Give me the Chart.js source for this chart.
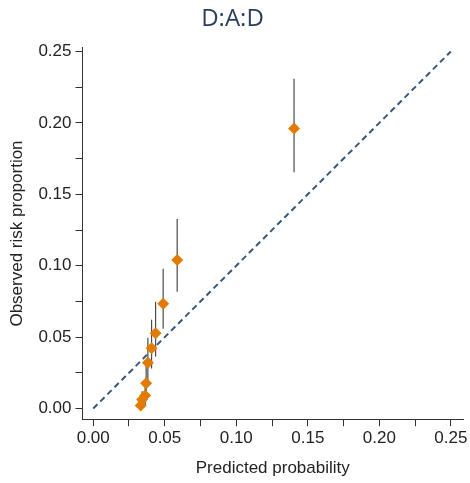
<!DOCTYPE html>
<html>
<head>
<meta charset="utf-8">
<script src="https://cdn.jsdelivr.net/npm/chart.js@4"></script>
<style>
  html, body { margin: 0; padding: 0; background: #fff; }
  #wrap { width: 470px; height: 483px; }
</style>
</head>
<body>
<div id="wrap"><canvas id="calChart" width="470" height="483"></canvas></div>
<script>
// calibration groups
const predicted = [0.1404, 0.0587, 0.0489, 0.0436, 0.0408, 0.0382, 0.0370, 0.0363, 0.0342, 0.0332];
const observed  = [0.1960, 0.1040, 0.0733, 0.0527, 0.0422, 0.0321, 0.0177, 0.0091, 0.0063, 0.0021];
const ciLower   = [0.1655, 0.0817, 0.0559, 0.0363, 0.0280, 0.0168, 0.0063, 0.0020, 0.0005, 0.0000];
const ciUpper   = [0.2310, 0.1327, 0.0978, 0.0747, 0.0622, 0.0496, 0.0307, 0.0154, 0.0120, 0.0070];
const refLine   = [0, 0.25];
const tickVals  = [0, 0.025, 0.05, 0.075, 0.1, 0.125, 0.15, 0.175, 0.2, 0.225, 0.25];

const axisColor = '#333';
const textFont = 'Liberation Sans, Arial, sans-serif';

function tickLabel(v) {
    const k = Math.round(v * 1000);
    return k % 50 === 0 ? v.toFixed(2) : '';
}

// vertical CI lines, drawn under the markers
const errorBars = {
    id: 'errorBars',
    beforeDatasetsDraw(chart) {
        const { ctx, scales: { x, y } } = chart;
        ctx.save();
        ctx.strokeStyle = '#4a4a4a';
        ctx.lineWidth = 1.2;
        predicted.forEach((p, i) => {
            const px = x.getPixelForValue(p);
            ctx.beginPath();
            ctx.moveTo(px, y.getPixelForValue(ciLower[i]));
            ctx.lineTo(px, y.getPixelForValue(ciUpper[i]));
            ctx.stroke();
        });
        ctx.restore();
    }
};

function axisOptions(min, max, titleText, tickPad, titlePad) {
    return {
        type: 'linear',
        min: min,
        max: max,
        afterBuildTicks: scale => { scale.ticks = tickVals.map(v => ({ value: v })); },
        ticks: {
            callback: tickLabel,
            autoSkip: false,
            maxRotation: 0,
            color: '#222',
            font: { family: textFont, size: 17 },
            padding: tickPad
        },
        grid: {
            drawOnChartArea: false,
            drawTicks: true,
            tickLength: 7,
            color: axisColor
        },
        border: { display: true, color: axisColor, width: 1 },
        title: {
            display: true,
            text: titleText,
            color: '#222',
            font: { family: textFont, size: 17 },
            padding: titlePad
        }
    };
}

const ctx = document.getElementById('calChart').getContext('2d');
new Chart(ctx, {
    data: {
        datasets: [
            {
                type: 'line',
                data: refLine.map(v => ({ x: v, y: v })),
                borderColor: '#3b5878',
                borderWidth: 2,
                borderDash: [6, 4],
                pointRadius: 0,
                order: 2
            },
            {
                type: 'scatter',
                data: predicted.map((p, i) => ({ x: p, y: observed[i] })),
                pointStyle: 'rectRot',
                pointRadius: 6,
                backgroundColor: '#e27b00',
                borderColor: '#e27b00',
                borderWidth: 0,
                order: 1
            }
        ]
    },
    options: {
        responsive: false,
        animation: false,
        layout: { padding: { left: 2, right: 7, top: 0, bottom: 0 } },
        plugins: {
            legend: { display: false },
            tooltip: { enabled: false },
            title: {
                display: true,
                text: 'D:A:D',
                color: '#2a3f5f',
                font: { family: 'Open Sans, sans-serif', size: 24, weight: 'normal' },
                padding: { top: 5, bottom: 14 }
            }
        },
        scales: {
            x: axisOptions(-0.0075, 0.2585, 'Predicted probability', 2, { top: 8, bottom: 4 }),
            y: axisOptions(-0.0075, 0.2526, 'Observed risk proportion', 4, { top: 5, bottom: 7 })
        }
    },
    plugins: [errorBars]
});
</script>
</body>
</html>
